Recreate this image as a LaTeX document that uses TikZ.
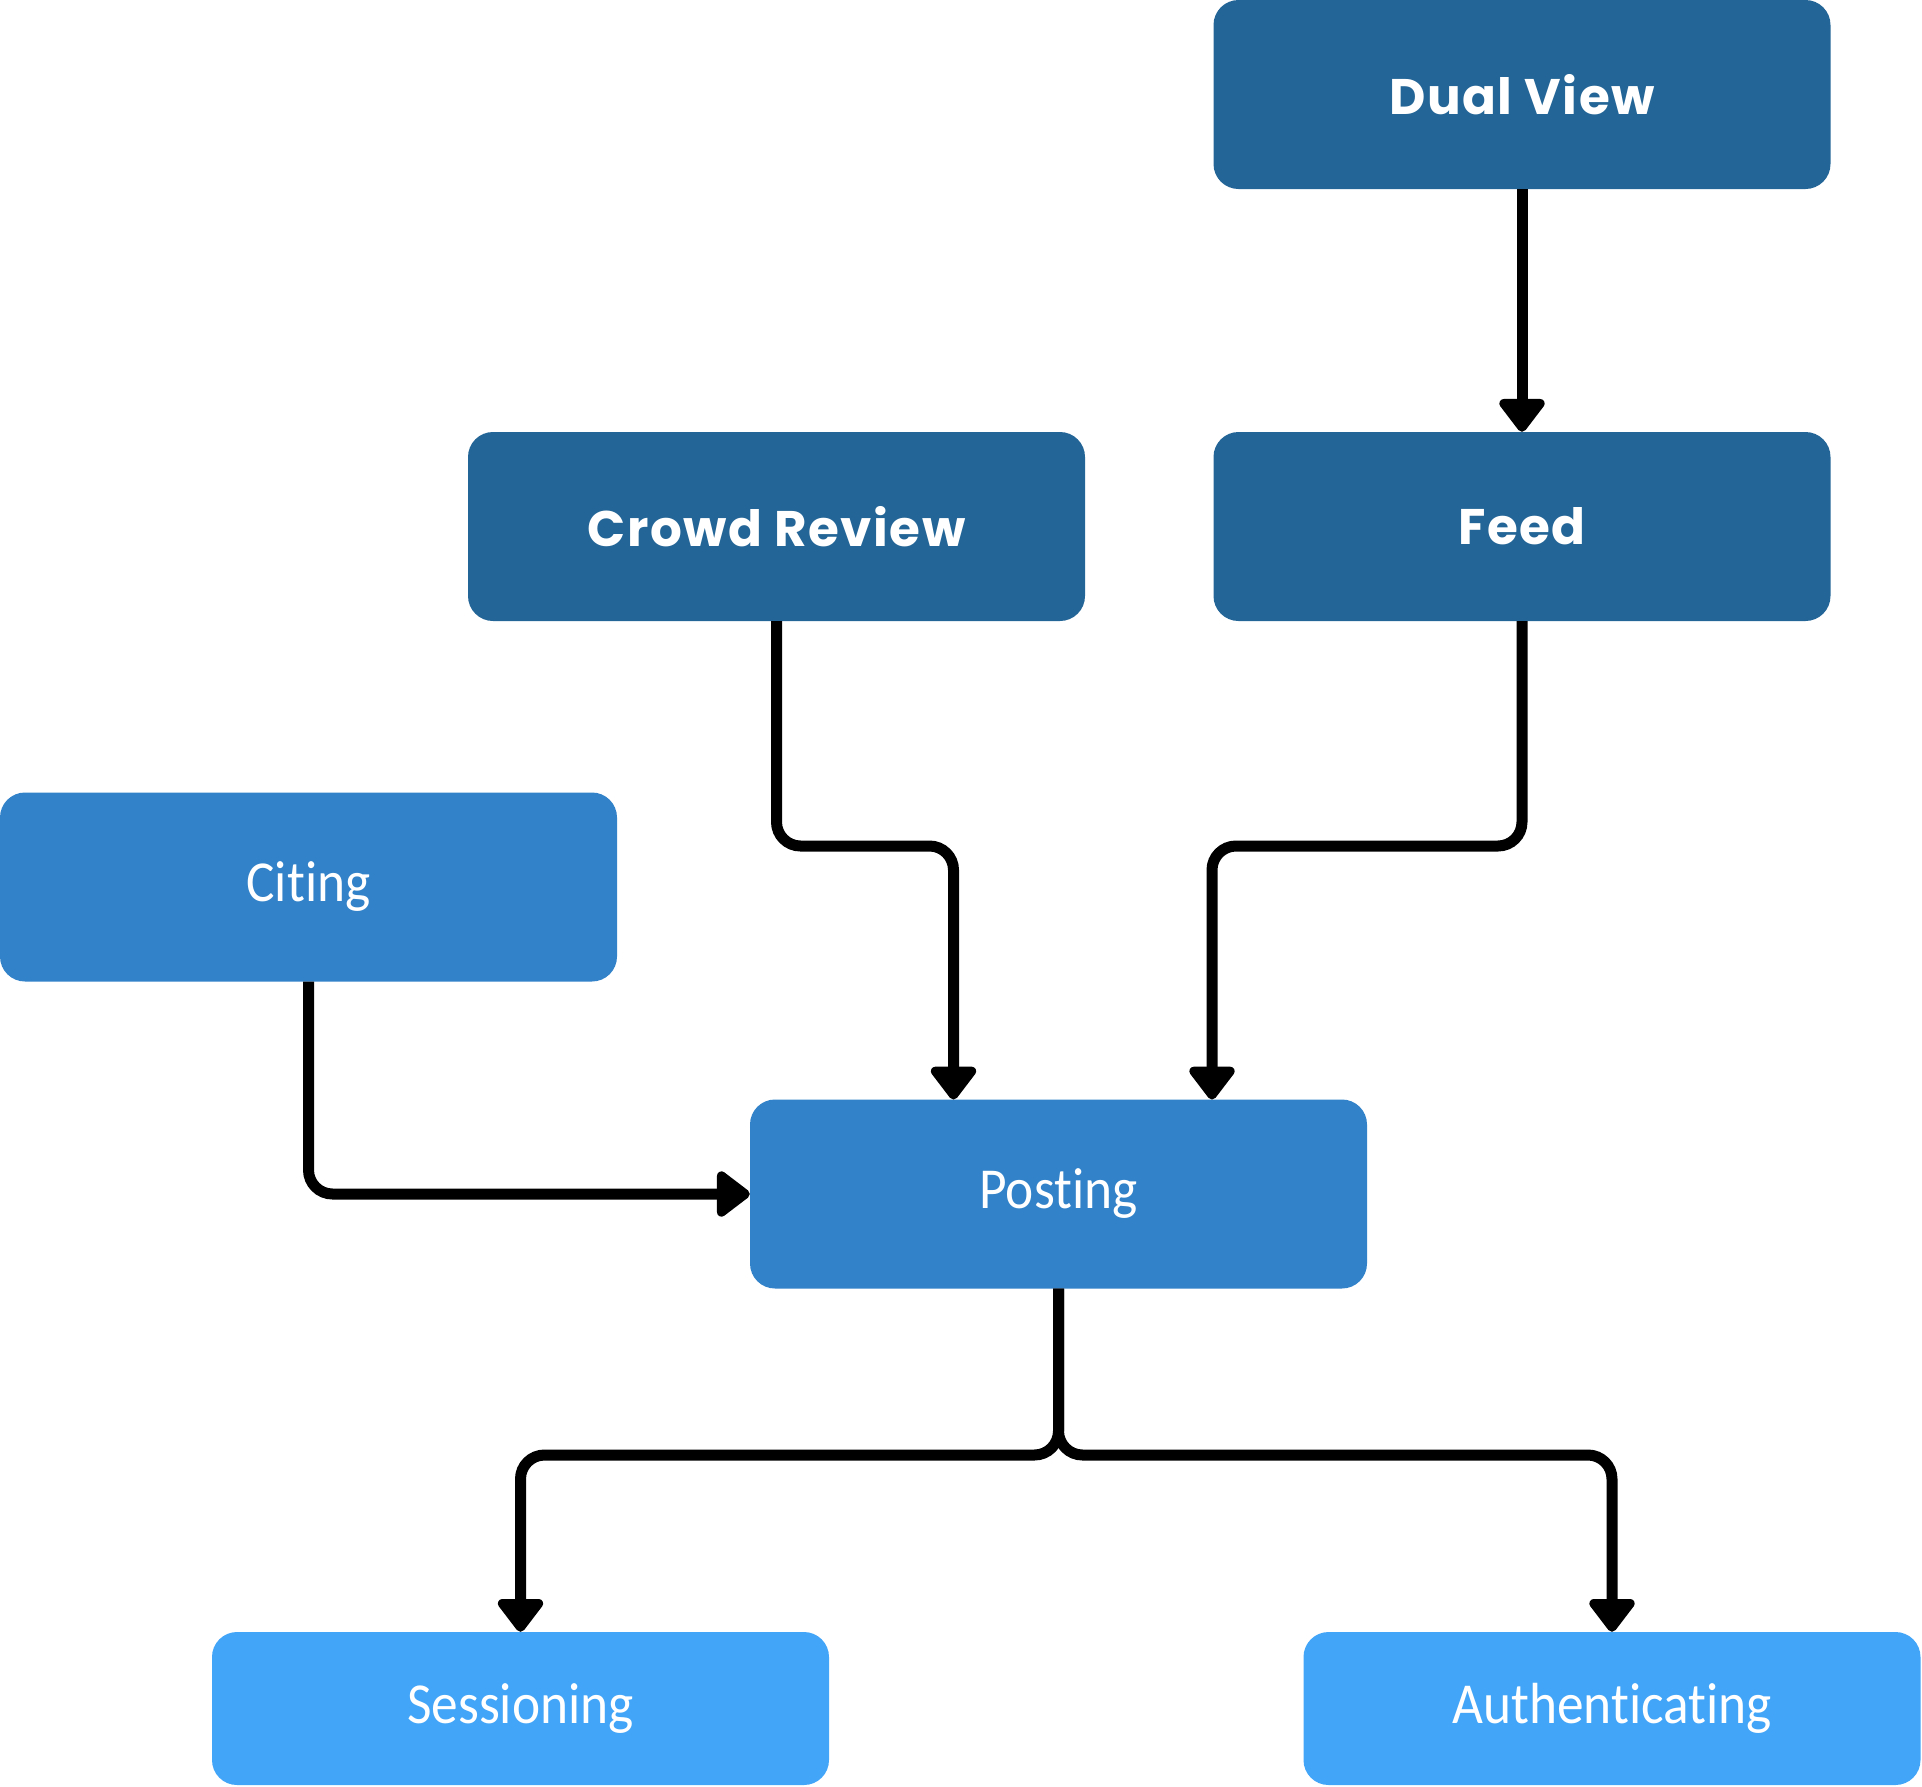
\documentclass[tikz,border=0pt]{standalone}
\usepackage{fontspec}
\usetikzlibrary{arrows.meta}
\newfontfamily\headfont{Poppins}[UprightFont=*-Bold,LetterSpace=3]
\newfontfamily\bodyfont{Carlito}[FakeStretch=0.92,Ligatures={NoCommon,NoRare,NoDiscretionary}]
\definecolor{darkblue}{HTML}{236596}
\definecolor{midblue}{HTML}{3182C9}
\definecolor{lightblue}{HTML}{42A5F8}
\tikzset{
  box/.style={rectangle, rounded corners=25pt, minimum width=617pt, minimum height=189pt, inner sep=0pt, text=white},
  topbox/.style={box, fill=darkblue, font=\headfont\fontsize{50}{60}\selectfont},
  midbox/.style={box, fill=midblue, font=\bodyfont\fontsize{58}{68}\selectfont},
  lowbox/.style={box, fill=lightblue, minimum height=153pt, font=\bodyfont\fontsize{58}{68}\selectfont},
  conn/.style={line width=11pt, rounded corners=24pt, -{Triangle[width=52pt,length=36pt,round]}},
}
\begin{document}
\begin{tikzpicture}[x=1pt,y=-1pt]
\useasboundingbox (0,0) rectangle (1922,1786);
\node[topbox] (dual) at (1522,94.5) {Dual View};
\node[topbox] (feed) at (1522,526.5) {Feed};
\node[topbox] (crowd) at (776.5,526.5) {Crowd Review};
\node[midbox] (citing) at (308.5,887) {Citing};
\node[midbox] (posting) at (1058.5,1194) {Posting};
\node[lowbox] (sess) at (520.5,1708.5) {Sessioning};
\node[lowbox] (auth) at (1612,1708.5) {Authenticating};
\coordinate (j1) at (776.5,846);
\coordinate (j2) at (1522,846);
\coordinate (j3) at (1058.5,1455);
\draw[conn] (dual.south) -- (feed.north);
\draw[conn] (crowd.south) -- (j1) -- (953.5,846) -- (953.5,1099.5);
\draw[conn] (feed.south) -- (j2) -- (1212,846) -- (1212,1099.5);
\draw[conn] (citing.south) |- (posting.west);
\draw[conn] (posting.south) -- (j3) -| (sess.north);
\draw[conn] (posting.south) -- (j3) -| (auth.north);
\end{tikzpicture}
\end{document}
